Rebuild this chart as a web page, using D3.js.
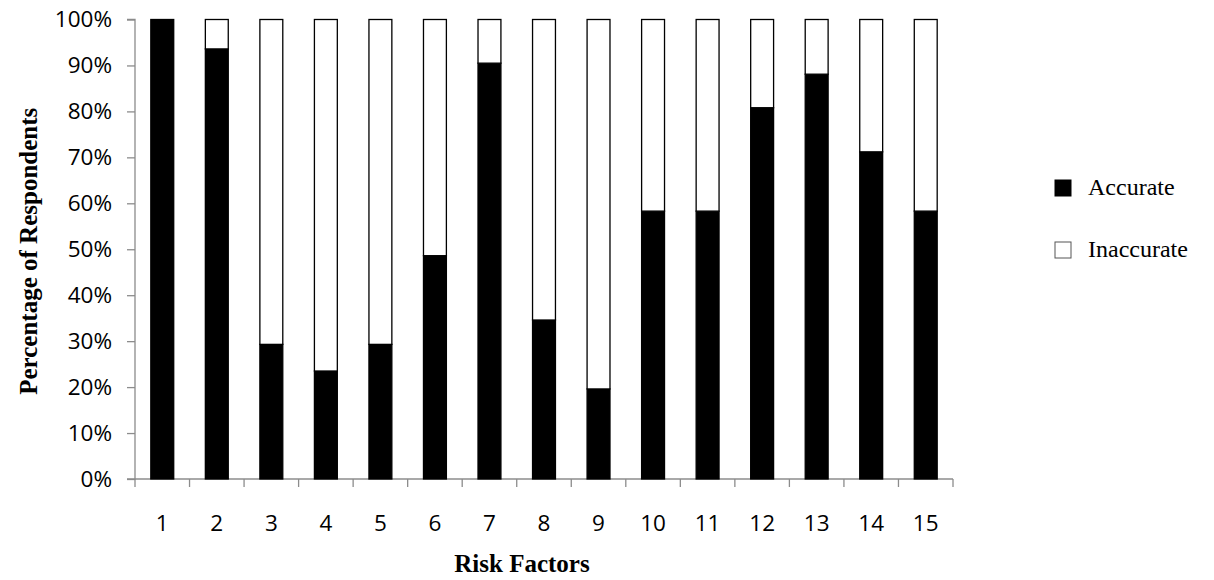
<!DOCTYPE html>
<html>
<head>
<meta charset="utf-8">
<script src="https://cdn.jsdelivr.net/npm/d3@7"></script>
<style>
  html, body { margin: 0; padding: 0; background: #fff; }
  svg { display: block; }
</style>
</head>
<body>
<svg id="chart" width="1214" height="580"></svg>
<script>
const categories = ["1","2","3","4","5","6","7","8","9","10","11","12","13","14","15"];
const accurate = [100, 93.6, 29.3, 23.5, 29.3, 48.6, 90.5, 34.6, 19.6, 58.3, 58.3, 80.8, 88.1, 71.2, 58.3];
const inaccurate = accurate.map(v => 100 - v);
const seriesNames = ["Accurate", "Inaccurate"];
const yTicks = [0, 10, 20, 30, 40, 50, 60, 70, 80, 90, 100];

const svg = d3.select("#chart");
const pLeft = 135, pRight = 953, pTop = 19.5, pBottom = 479;
const sansFont = "'Open Sans', sans-serif";
const serifFont = "'Liberation Serif', 'Times New Roman', serif";

const x = d3.scaleBand().domain(categories).range([pLeft, pRight]).paddingInner(0.58).paddingOuter(0.29);
const y = d3.scaleLinear().domain([0, 100]).range([pBottom, pTop]);

const rows = categories.map((c, i) => ({ cat: c, Accurate: accurate[i], Inaccurate: inaccurate[i] }));
const stacked = d3.stack().keys(seriesNames)(rows);
const fills = { Accurate: "#000", Inaccurate: "#fff" };

// y axis
const yAxis = d3.axisLeft(y).tickValues(yTicks).tickSize(8).tickPadding(15).tickFormat(d => d + "%");
const gy = svg.append("g").attr("transform", `translate(${pLeft},0)`).call(yAxis);
gy.select(".domain").attr("stroke", "#8c8c8c").attr("stroke-width", 1.3).attr("d", `M-8,${pTop}H0V${pBottom}H-8`);
gy.selectAll(".tick line").attr("stroke", "#8c8c8c").attr("stroke-width", 1.3);
gy.selectAll(".tick text").attr("font-family", sansFont).attr("font-size", 22.5).attr("fill", "#000");

// x axis
const xEdge = d3.scaleLinear().domain([0, categories.length]).range([pLeft, pRight]);
const gx = svg.append("g").attr("transform", `translate(0,${pBottom})`);
gx.append("line").attr("x1", pLeft).attr("x2", pRight).attr("stroke", "#8c8c8c").attr("stroke-width", 1.3);
gx.selectAll("line.tk").data(d3.range(categories.length + 1)).join("line")
  .attr("class", "tk").attr("x1", d => xEdge(d)).attr("x2", d => xEdge(d)).attr("y1", 0).attr("y2", 8)
  .attr("stroke", "#8c8c8c").attr("stroke-width", 1.3);
gx.selectAll("text").data(categories).join("text")
  .attr("x", d => x(d) + x.bandwidth() / 2).attr("y", 52)
  .attr("text-anchor", "middle").attr("font-family", sansFont).attr("font-size", 22.5).text(d => d);

// bars
stacked.forEach(s => {
  svg.append("g").selectAll("rect").data(s).join("rect")
    .attr("x", d => x(d.data.cat))
    .attr("width", x.bandwidth())
    .attr("y", d => y(d[1]))
    .attr("height", d => Math.max(0, y(d[0]) - y(d[1])))
    .attr("fill", fills[s.key])
    .attr("stroke", d => (d[1] - d[0]) > 0 ? "#000" : "none")
    .attr("stroke-width", 1.3);
});

// axis titles
svg.append("text").attr("transform", `translate(37,${(pTop + pBottom) / 2 + 2}) rotate(-90)`)
  .attr("text-anchor", "middle").attr("font-family", serifFont)
  .attr("font-weight", "bold").attr("font-size", 25).text("Percentage of Respondents");
svg.append("text").attr("x", 522).attr("y", 572)
  .attr("text-anchor", "middle").attr("font-family", serifFont)
  .attr("font-weight", "bold").attr("font-size", 25).text("Risk Factors");

// legend
const lg = svg.append("g");
seriesNames.forEach((k, i) => {
  const cy = 188 + i * 62;
  lg.append("rect").attr("x", 1055).attr("y", cy - 8).attr("width", 16).attr("height", 16)
    .attr("fill", fills[k]).attr("stroke", k === "Inaccurate" ? "#555" : "#000").attr("stroke-width", 1);
  lg.append("text").attr("x", 1088).attr("y", cy + 7)
    .attr("font-family", serifFont).attr("font-size", 24).text(k);
});
</script>
</body>
</html>
